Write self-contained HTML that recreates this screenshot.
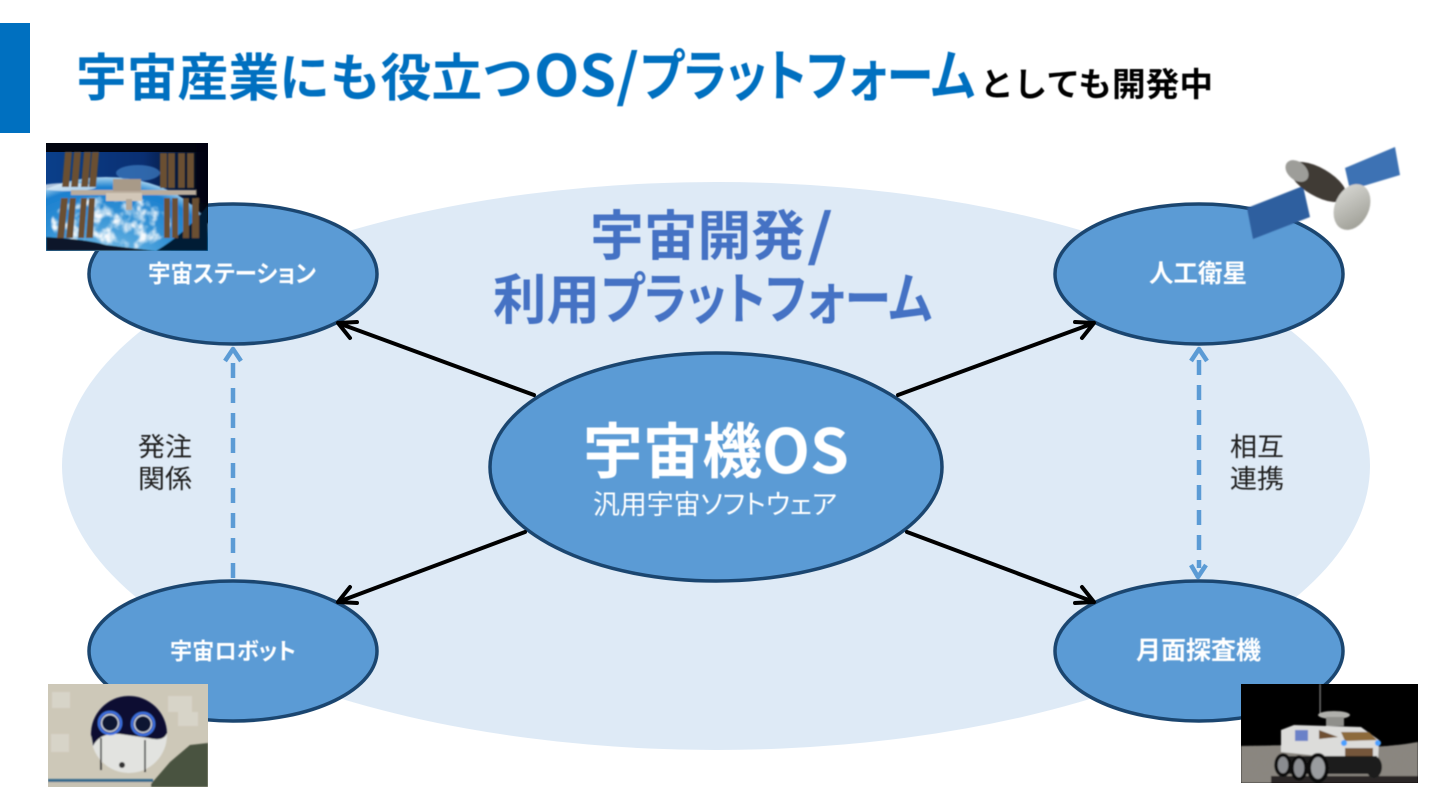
<!DOCTYPE html>
<html lang="ja"><head><meta charset="utf-8"><style>
html,body{margin:0;padding:0;background:#fff;width:1440px;height:810px;overflow:hidden}
svg{display:block}
text{font-family:"Liberation Sans","Noto Sans CJK JP",sans-serif;font-weight:700}
.p{font-feature-settings:"palt"}
.n{font-family:"Noto Sans CJK JP",sans-serif}
</style></head><body>
<svg width="1440" height="810" viewBox="0 0 1440 810" xmlns="http://www.w3.org/2000/svg">
<defs>
<filter id="b" x="-5%" y="-5%" width="110%" height="110%"><feGaussianBlur stdDeviation="0.8"/></filter>
<filter id="t" x="-5%" y="-20%" width="110%" height="140%"><feGaussianBlur stdDeviation="0.5"/></filter>
<filter id="cloud" x="0" y="0" width="100%" height="100%">
<feTurbulence type="fractalNoise" baseFrequency=".09" numOctaves="3" seed="4"/>
<feColorMatrix values="0 0 0 0 .93  0 0 0 0 .96  0 0 0 0 .98  3.2 0 0 0 -1.35"/>
<feComposite in2="SourceAlpha" operator="in"/>
<feGaussianBlur stdDeviation=".5"/>
</filter>
<filter id="grain" x="0" y="0" width="100%" height="100%">
<feTurbulence type="fractalNoise" baseFrequency=".35" numOctaves="2" seed="7"/>
<feColorMatrix values="0 0 0 0 .25  0 0 0 0 .24  0 0 0 0 .22  2.2 0 0 0 -.9"/>
<feComposite in2="SourceAlpha" operator="in"/>
</filter>
<radialGradient id="earth" cx=".5" cy=".55" r=".55"><stop offset="0" stop-color="#7cc0e8"/><stop offset=".6" stop-color="#2f8fd4"/><stop offset=".88" stop-color="#1b80cf"/><stop offset="1" stop-color="#a9d4ef"/></radialGradient>
<linearGradient id="sky" x1="0" y1="0" x2="1" y2="0"><stop offset="0" stop-color="#0a3f8a"/><stop offset=".6" stop-color="#0a2f72"/><stop offset="1" stop-color="#01030c"/></linearGradient>
<linearGradient id="dish" x1="0" y1="0" x2="1" y2="1"><stop offset="0" stop-color="#dcdcd8"/><stop offset="1" stop-color="#98988f"/></linearGradient>
</defs>
<rect x="0" y="23" width="30" height="110" fill="#0070C0"/>
<g fill="#0070C0" filter="url(#t)">
<text x="76" y="96" font-size="51" textLength="457" lengthAdjust="spacingAndGlyphs">宇宙産業にも役立つ</text>
<text class="n" x="534" y="96" font-size="57" textLength="105" lengthAdjust="spacingAndGlyphs">OS/</text>
<text class="p" x="640" y="96" font-size="56" textLength="335" lengthAdjust="spacingAndGlyphs">プラットフォーム</text>
</g>
<text x="980" y="96" font-size="33" fill="#000" textLength="233" lengthAdjust="spacingAndGlyphs" filter="url(#t)">としても開発中</text>

<ellipse cx="716" cy="466" rx="654" ry="284" fill="#DEEAF6"/>

<g fill="#4472C4" filter="url(#t)">
<text x="590" y="255" font-size="54" textLength="215" lengthAdjust="spacingAndGlyphs">宇宙開発</text>
<text class="n" x="807" y="255" font-size="56" textLength="26" lengthAdjust="spacingAndGlyphs">/</text>
<text x="493" y="319" font-size="54" textLength="107" lengthAdjust="spacingAndGlyphs">利用</text>
<text class="p" x="601" y="319" font-size="56" textLength="331" lengthAdjust="spacingAndGlyphs">プラットフォーム</text>
</g>

<g fill="#5B9BD5" stroke="#1B4670" stroke-width="3.5">
<ellipse cx="233" cy="274" rx="144" ry="70"/>
<ellipse cx="1199" cy="274" rx="144" ry="70"/>
<ellipse cx="233" cy="651" rx="144" ry="70"/>
<ellipse cx="1199" cy="651" rx="144" ry="70"/>
<ellipse cx="716" cy="467" rx="226" ry="114"/>
</g>

<g stroke="#000" stroke-width="4" fill="none" stroke-linecap="round" stroke-linejoin="round">
<path d="M534 395L338 323M357 322L338 323L350 338"/>
<path d="M898 395L1094 323M1075 322L1094 323L1082 338"/>
<path d="M525 532L338 602M350 587L338 602L357 603"/>
<path d="M907 532L1094 602M1082 587L1094 602L1075 603"/>
</g>

<g stroke="#5B9BD5" stroke-width="4.5" fill="none" stroke-linejoin="round">
<path d="M233 578V352" stroke-dasharray="15 10"/>
<path d="M225 361L233 349L241 361"/>
<path d="M1199 360V568" stroke-dasharray="15 10"/>
<path d="M1191 361L1199 349L1207 361"/>
<path d="M1191 565L1198 577L1206 565"/>
</g>

<g fill="#fff" filter="url(#t)">
<text class="p" x="148" y="282" font-size="24" textLength="168" lengthAdjust="spacingAndGlyphs">宇宙ステーション</text>
<text x="1149" y="282" font-size="25" textLength="98" lengthAdjust="spacingAndGlyphs">人工衛星</text>
<text class="p" x="170" y="659" font-size="23" textLength="126" lengthAdjust="spacingAndGlyphs">宇宙ロボット</text>
<text x="1136" y="659" font-size="25" textLength="125" lengthAdjust="spacingAndGlyphs">月面探査機</text>
<text x="583" y="473" font-size="60" textLength="179" lengthAdjust="spacingAndGlyphs">宇宙機</text>
<text class="n" x="762" y="473" font-size="61" textLength="87" lengthAdjust="spacingAndGlyphs">OS</text>
<text class="p" x="593" y="514" font-size="27" style="font-weight:400" textLength="244" lengthAdjust="spacingAndGlyphs">汎用宇宙ソフトウェア</text>
</g>
<g fill="#222" font-size="26" text-anchor="middle" filter="url(#t)">
<text x="165" y="456" style="font-weight:400" textLength="54" lengthAdjust="spacingAndGlyphs">発注</text>
<text x="165" y="488" style="font-weight:400" textLength="54" lengthAdjust="spacingAndGlyphs">関係</text>
<text x="1257" y="456" style="font-weight:400" textLength="54" lengthAdjust="spacingAndGlyphs">相互</text>
<text x="1257" y="488" style="font-weight:400" textLength="54" lengthAdjust="spacingAndGlyphs">連携</text>
</g>

<!-- ISS -->
<svg x="46" y="143" width="162" height="108" viewBox="0 0 162 108">
<rect width="162" height="108" fill="url(#sky)"/>
<rect width="162" height="9" fill="#01040f"/>
<g filter="url(#b)">
<ellipse cx="60" cy="112" rx="112" ry="78" fill="url(#earth)"/>
<ellipse cx="92" cy="30" rx="22" ry="8" fill="#3f7fc4" opacity=".7"/>
<ellipse cx="65" cy="80" rx="60" ry="28" filter="url(#cloud)"/>
<ellipse cx="22" cy="44" rx="28" ry="4" fill="#e4eff7" opacity=".75"/>
<path d="M0 94Q40 96 60 102L110 108H0Z" fill="#07182c"/>
<path d="M110 108Q140 90 162 62V108Z" fill="#061a34"/>
<rect x="150" width="12" height="60" fill="#01030c" opacity=".7"/>
<g fill="#6a4f33">
<polygon points="19,9 26,9 23,44 16,44"/><polygon points="28,9 35,9 32,44 25,44"/><polygon points="38,9 45,9 42,44 35,44"/><polygon points="46,9 53,9 50,44 43,44"/>
<polygon points="15,55 22,55 18,95 11,95"/><polygon points="24,55 30,55 27,95 20,95"/><polygon points="35,55 41,55 38,95 32,95"/><polygon points="43,55 49,55 47,95 40,95"/>
<rect x="114" y="10" width="7" height="35"/><rect x="122" y="10" width="7" height="35"/><rect x="132" y="10" width="7" height="35"/><rect x="141" y="10" width="7" height="35"/>
<rect x="118" y="55" width="6" height="40"/><rect x="126" y="55" width="6" height="40"/><rect x="137" y="55" width="6" height="40"/><rect x="146" y="55" width="7" height="40"/>
</g>
<rect x="25" y="47" width="125" height="5" fill="#b9ac9c"/>
<rect x="67" y="36" width="28" height="12" fill="#a89a88"/>
<rect x="60" y="50" width="36" height="8" fill="#d2c7b8"/>
<rect x="80" y="56" width="6" height="11" fill="#b5a898"/>
</g>
</svg>

<!-- satellite -->
<g filter="url(#b)">
<polygon points="1247,208 1303,186 1310,217 1253,239" fill="#2f5f9f"/>
<polygon points="1345,168 1395,147 1400,175 1350,190" fill="#3e72b4"/>
<ellipse cx="1318" cy="182" rx="32" ry="14" transform="rotate(30 1318 182)" fill="#3f3a36"/>
<ellipse cx="1297" cy="171" rx="9" ry="13" transform="rotate(-50 1297 171)" fill="#9d9d99"/>
<ellipse cx="1352" cy="207" rx="17" ry="24" transform="rotate(25 1352 207)" fill="url(#dish)"/>
</g>

<!-- robot -->
<svg x="48" y="684" width="160" height="103" viewBox="0 0 160 103">
<rect width="160" height="103" fill="#cdc8b8"/>
<g filter="url(#b)">
<g fill="#e0dfd6" opacity=".55"><rect x="3" y="50" width="18" height="18"/><rect x="4" y="8" width="18" height="16"/><rect x="120" y="12" width="24" height="16"/><rect x="130" y="28" width="20" height="14"/></g>
<rect x="0" y="95" width="105" height="3" fill="#35698c"/>
<rect x="0" y="98" width="160" height="5" fill="#c7c2b3"/>
<polygon points="103,100 122,78 142,61 160,59 160,103 103,103" fill="#4a5240"/>
<circle cx="81" cy="51" r="38" fill="#e2e3e0"/>
<path d="M43 51A38 38 0 0 1 119 49Q116 58 100 54L72 50Q52 48 45 62Z" fill="#0b1030"/>
<circle cx="62" cy="39" r="11" fill="#0c1230" stroke="#3d6fe0" stroke-width="2.5"/>
<circle cx="62" cy="39" r="8.5" fill="none" stroke="#dfe6f5" stroke-width="1.2"/>
<circle cx="95" cy="40" r="11" fill="#0c1230" stroke="#3d6fe0" stroke-width="2.5"/>
<circle cx="95" cy="40" r="8.5" fill="none" stroke="#dfe6f5" stroke-width="1.2"/>
<path d="M53 54V86M97 56V88" stroke="#333" stroke-width="1.5"/>
<circle cx="74" cy="81" r="3" fill="#333"/>
</g>
</svg>

<!-- rover -->
<svg x="1241" y="684" width="177" height="99" viewBox="0 0 177 99">
<rect width="177" height="99" fill="#000"/>
<g filter="url(#b)">
<path d="M0 62L60 61L130 63Q155 62 177 58V99H0Z" fill="#8a867f"/>
<path d="M0 62L60 61L130 63Q155 62 177 58V99H0Z" filter="url(#grain)"/>
<rect x="30" y="92" width="147" height="7" fill="#2a2825"/>
<rect x="78.5" width="1.2" height="30" fill="#888"/>
<ellipse cx="93" cy="31" rx="16" ry="4" fill="#b0b0ac"/>
<rect x="85" y="33" width="18" height="9" fill="#8f8f8b"/>
<polygon points="40,46 53,41 120,43 138,56 137,78 40,68" fill="#dcdcda"/>
<polygon points="78,46 97,53 78,55" fill="#6e5030"/>
<polygon points="100,48 128,48 136,56 104,57" fill="#8d6a3a"/>
<rect x="104" y="64" width="28" height="8" fill="#75573a"/>
<circle cx="103" cy="59" r="3" fill="#4aa0ff"/><circle cx="137" cy="59" r="3" fill="#4aa0ff"/>
<rect x="54" y="46" width="13" height="11" fill="#3a5ac0" opacity=".7"/>
<rect x="44" y="72" width="92" height="18" fill="#1e1e1e"/>
<ellipse cx="42" cy="81" rx="7" ry="10" fill="#8a8c90" stroke="#111" stroke-width="3.5"/>
<ellipse cx="58" cy="84" rx="7" ry="11" fill="#8a8c90" stroke="#111" stroke-width="3.5"/>
<ellipse cx="77" cy="84" rx="9" ry="13" fill="#9a9c9f" stroke="#111" stroke-width="4"/>
<ellipse cx="133" cy="83" rx="8" ry="11" fill="#1c1c1c"/>
</g>
</svg>
</svg>
</body></html>
